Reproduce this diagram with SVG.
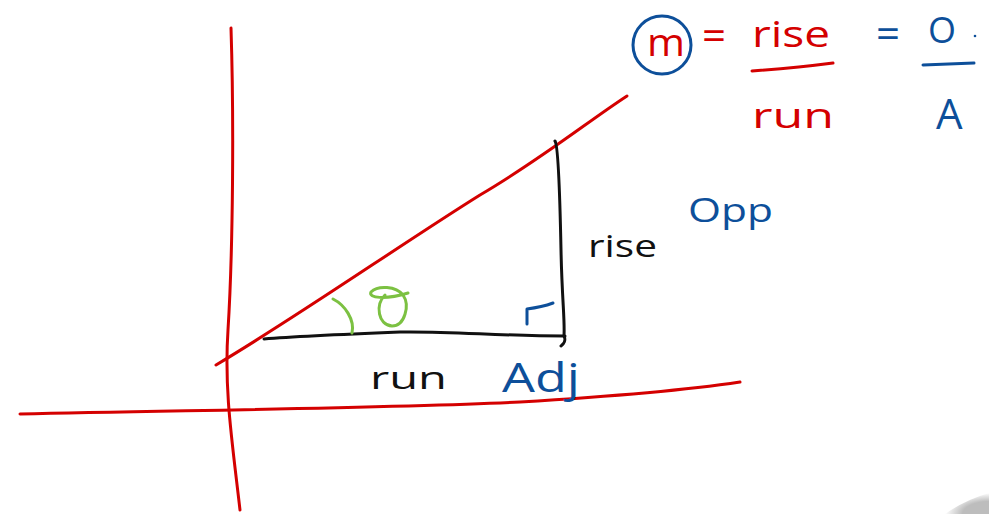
<svg xmlns="http://www.w3.org/2000/svg" width="989" height="514" viewBox="0 0 989 514">
<defs>
<style>
.red{stroke:#d40000;fill:none;stroke-width:3;stroke-linecap:round;stroke-linejoin:round}
.blk{stroke:#111;fill:none;stroke-width:3;stroke-linecap:round;stroke-linejoin:round}
.blu{stroke:#0d4f9a;fill:none;stroke-width:3;stroke-linecap:round;stroke-linejoin:round}
.grn{stroke:#7cc142;fill:none;stroke-width:3;stroke-linecap:round;stroke-linejoin:round}
.t{font-family:"Open Sans","DejaVu Sans",sans-serif;font-weight:400}
.tr{fill:#d40000}
.tb{fill:#0d4f9a}
.tk{fill:#111}
</style>
<radialGradient id="sh" cx="1" cy="1" r="1">
<stop offset="0.6" stop-color="#bdbdbd"/>
<stop offset="1" stop-color="#bdbdbd" stop-opacity="0"/>
</radialGradient>
</defs>
<rect width="989" height="514" fill="#fff"/>
<path d="M945,514 Q965,500 989,493 L989,514 Z" fill="url(#sh)"/>
<g id="axes">
<path id="y-axis" class="red" d="M231,28 C234,120 233,250 228,330 C224,390 232,440 240,510"/>
<path id="x-axis" class="red" d="M20,414 C200,410 400,408 520,402 C620,396 700,388 740,382"/>
<path id="slope" class="red" d="M216,365 C300,315 400,245 480,195 C540,160 590,120 627,96"/>
</g>
<g id="triangle">
<path class="blk" d="M264,339 C300,336 350,334 400,332 C450,331 500,336 565,336"/>
<path class="blk" d="M555,141 C558,145 560,200 561,250 C562,300 565,320 564,336 C566,340 564,344 561,346"/>
<path class="blu" d="M527,324 L527,309 C535,308 545,306 553,303"/>
</g>
<g id="angle">
<path class="grn" d="M333,299 C345,305 355,320 352,333"/>
<path class="grn" d="M385,295 C375,305 378,325 392,326 C405,326 410,305 403,295 C396,286 378,285 371,292 C368,298 385,300 408,293"/>
</g>
<g id="labels">
<text class="t tk" x="588" y="257" font-size="31" textLength="69" lengthAdjust="spacingAndGlyphs">rise</text>
<text class="t tb" x="688" y="222" font-size="32" textLength="85" lengthAdjust="spacingAndGlyphs">Opp</text>
<text class="t tk" x="370" y="389" font-size="31" textLength="77" lengthAdjust="spacingAndGlyphs">run</text>
<text class="t tb" x="502" y="392" font-size="40" textLength="78" lengthAdjust="spacingAndGlyphs">Adj</text>
</g>
<g id="formula">
<circle class="blu" cx="662" cy="45" r="29"/>
<text class="t tr" x="647" y="56" font-size="38" textLength="38" lengthAdjust="spacingAndGlyphs">m</text>
<text class="t tr" x="702" y="50" font-size="40" textLength="24" lengthAdjust="spacingAndGlyphs">=</text>
<text class="t tr" x="752" y="47" font-size="36" textLength="78" lengthAdjust="spacingAndGlyphs">rise</text>
<path class="red" d="M752,71 C780,69 810,66 833,63"/>
<text class="t tr" x="752" y="128" font-size="34" textLength="82" lengthAdjust="spacingAndGlyphs">run</text>
<text class="t tb" x="876" y="48" font-size="40" textLength="24" lengthAdjust="spacingAndGlyphs">=</text>
<text class="t tb" x="928" y="43" font-size="36" textLength="28" lengthAdjust="spacingAndGlyphs">O</text>
<circle cx="975" cy="36" r="1.3" fill="#0d4f9a"/>
<path class="blu" d="M923,65 L974,63"/>
<text class="t tb" x="936" y="129" font-size="42">A</text>
</g>
</svg>
